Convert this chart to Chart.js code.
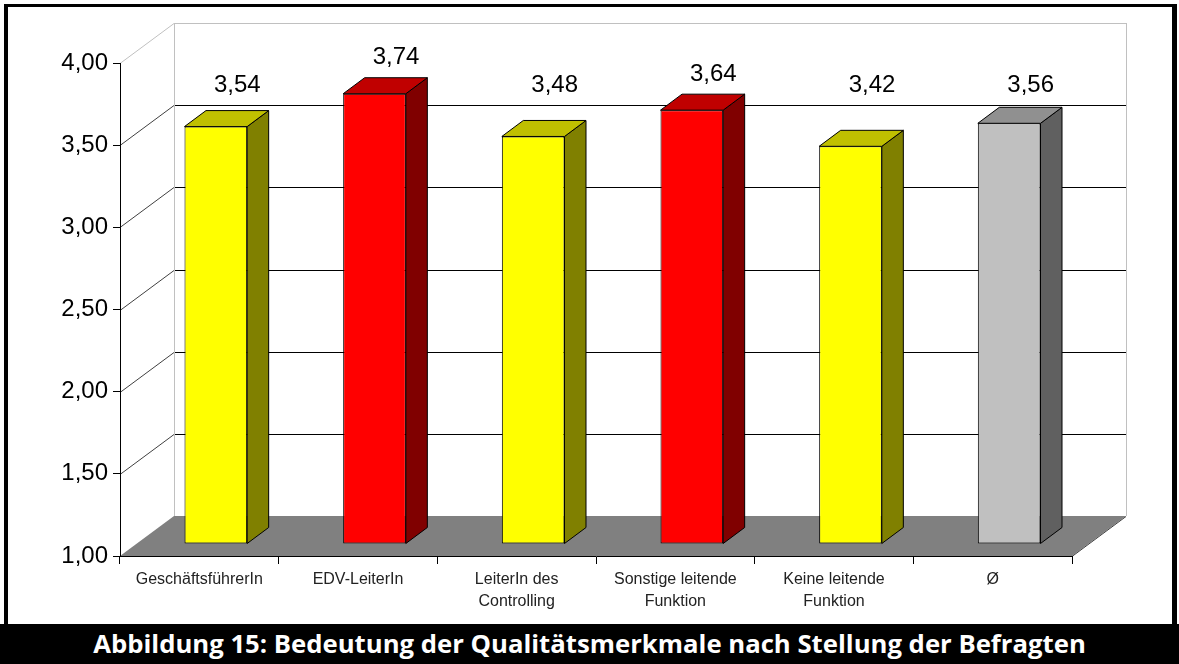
<!DOCTYPE html>
<html>
<head>
<meta charset="utf-8">
<script src="https://cdn.jsdelivr.net/npm/chart.js@4"></script>
<style>
  html, body { margin:0; padding:0; background:#fff; width:1179px; height:664px; overflow:hidden; }
  #frame { position:absolute; left:4px; top:4px; width:1173px; height:620px; box-sizing:border-box;
           border-style:solid; border-color:#000; border-width:3px 5px 0 4px; }
  #title { position:absolute; left:0; top:624px; width:1179px; height:40px; background:#000; color:#fff;
           font-family:"Open Sans", sans-serif; font-weight:700; text-align:center; line-height:40px; white-space:nowrap; }
  #c { position:absolute; left:0; top:0; }
</style>
</head>
<body>
<div id="frame"></div>
<div id="title">Abbildung 15: Bedeutung der Qualitätsmerkmale nach Stellung der Befragten</div>
<canvas id="c" width="1179" height="664"></canvas>
<script>
// ---- data ----
const categories = ['GeschäftsführerIn', 'EDV-LeiterIn', ['LeiterIn des', 'Controlling'],
                    ['Sonstige leitende', 'Funktion'], ['Keine leitende', 'Funktion'], 'Ø'];
const values = [3.54, 3.74, 3.48, 3.64, 3.42, 3.56];
const valueLabels = ['3,54', '3,74', '3,48', '3,64', '3,42', '3,56'];
const yTickValues = [1.0, 1.5, 2.0, 2.5, 3.0, 3.5, 4.0];
const yTickLabels = ['1,00', '1,50', '2,00', '2,50', '3,00', '3,50', '4,00'];

// ---- styles ----
const frontColors = ['#FFFF00', '#FF0000', '#FFFF00', '#FF0000', '#FFFF00', '#C0C0C0'];
const topColors   = ['#C0C000', '#C00000', '#C0C000', '#C00000', '#C0C000', '#909090'];
const sideColors  = ['#808000', '#800000', '#808000', '#800000', '#808000', '#606060'];

// fit title width
(function(){
  const t = document.getElementById('title');
  const m = document.createElement('canvas').getContext('2d');
  m.font = '700 100px "Open Sans"';
  const w = m.measureText(t.textContent).width;
  t.style.fontSize = (100 * 993 / w).toFixed(2) + 'px';
})();

const DX = 16.5, DY = 12;    // shift of bar front face into depth
const BX = 21.5, BY = 16;    // bar depth
const WX = 54, WY = 40;      // wall depth

const threeD = {
  id: 'threeD',
  beforeDraw(chart) {
    const {ctx, chartArea: a, scales: {y}} = chart;
    const yb = y.getPixelForValue(y.min);
    const yt = y.getPixelForValue(y.max);
    ctx.save();
    // floor
    ctx.fillStyle = '#808080';
    ctx.beginPath();
    ctx.moveTo(a.left, yb); ctx.lineTo(a.right, yb);
    ctx.lineTo(a.right + WX, yb - WY); ctx.lineTo(a.left + WX, yb - WY);
    ctx.closePath(); ctx.fill();
    ctx.lineWidth = 1;
    // gridlines on back wall + side diagonals
    y.ticks.forEach(t => {
      if (t.value === y.min) return;
      const py = Math.round(y.getPixelForValue(t.value));
      const isTop = t.value === y.max;
      ctx.strokeStyle = isTop ? '#c0c0c0' : '#000';
      ctx.beginPath();
      ctx.moveTo(a.left + WX, py - WY + 0.5); ctx.lineTo(a.right + WX, py - WY + 0.5);
      ctx.stroke();
      ctx.strokeStyle = isTop ? '#c0c0c0' : '#404040';
      ctx.beginPath();
      ctx.moveTo(a.left, py + 0.5); ctx.lineTo(a.left + WX, py - WY + 0.5);
      ctx.stroke();
    });
    // back wall verticals
    ctx.strokeStyle = '#c0c0c0';
    ctx.beginPath();
    ctx.moveTo(a.left + WX + 0.5, yt - WY); ctx.lineTo(a.left + WX + 0.5, yb - WY);
    ctx.moveTo(a.right + WX + 0.5, yt - WY); ctx.lineTo(a.right + WX + 0.5, yb - WY);
    ctx.stroke();
    // floor right edge
    ctx.strokeStyle = '#404040';
    ctx.beginPath();
    ctx.moveTo(a.right, yb + 0.5); ctx.lineTo(a.right + WX, yb - WY + 0.5);
    ctx.stroke();
    ctx.restore();
  },
  beforeDatasetsDraw(chart) {
    chart.ctx.save();
    chart.ctx.translate(DX, -DY);
  },
  afterDatasetsDraw(chart) {
    const {ctx, chartArea: a} = chart;
    ctx.restore();
    const meta = chart.getDatasetMeta(0);
    ctx.save();
    ctx.lineWidth = 1;
    ctx.strokeStyle = '#000';
    ctx.lineJoin = 'miter';
    meta.data.forEach((bar, i) => {
      const p = bar.getProps(['x', 'y', 'base', 'width'], true);
      const L = p.x - p.width / 2 + DX, R = p.x + p.width / 2 + DX;
      const T = p.y - DY, B = p.base - DY;
      // side
      ctx.fillStyle = sideColors[i];
      ctx.beginPath();
      ctx.moveTo(R, T); ctx.lineTo(R + BX, T - BY); ctx.lineTo(R + BX, B - BY); ctx.lineTo(R, B);
      ctx.closePath(); ctx.fill(); ctx.stroke();
      // top
      ctx.fillStyle = topColors[i];
      ctx.beginPath();
      ctx.moveTo(L, T); ctx.lineTo(L + BX, T - BY); ctx.lineTo(R + BX, T - BY); ctx.lineTo(R, T);
      ctx.closePath(); ctx.fill(); ctx.stroke();
      // value label (centre of digits)
      ctx.fillStyle = '#000';
      ctx.font = '24px "Liberation Sans", Arial, sans-serif';
      ctx.textAlign = 'center';
      ctx.textBaseline = 'alphabetic';
      const cy = Math.min(T - BY - 22, a.top + 20);
      ctx.fillText(valueLabels[i], (L + R) / 2 + BX, cy + 8.5);
    });
    ctx.restore();
  }
};

new Chart(document.getElementById('c'), {
  type: 'bar',
  data: {
    labels: categories,
    datasets: [{
      data: values,
      base: 1,
      backgroundColor: frontColors,
      borderColor: '#000',
      borderWidth: 1,
      borderSkipped: false,
      barPercentage: 0.395,
      categoryPercentage: 1.0,
      clip: false
    }]
  },
  options: {
    responsive: false,
    animation: false,
    devicePixelRatio: 1,
    layout: { padding: { left: 0, right: 107, top: 63, bottom: 0 } },
    plugins: { legend: { display: false }, tooltip: { enabled: false } },
    events: [],
    scales: {
      x: {
        afterFit(s) { s.height = 108; },
        grid: { display: true, drawOnChartArea: false, offset: true, tickLength: 8, color: '#000' },
        border: { display: true, color: '#000', width: 1 },
        ticks: {
          autoSkip: false, maxRotation: 0, minRotation: 0, padding: 5, color: '#222',
          font: { family: '"Liberation Sans", Arial, sans-serif', size: 16, lineHeight: 1.35 }
        }
      },
      y: {
        min: 1, max: 4,
        afterFit(s) { s.width = 120; },
        afterBuildTicks(s) { s.ticks = yTickValues.map(v => ({ value: v })); },
        grid: { display: true, drawOnChartArea: false, tickLength: 7, color: '#000' },
        border: { display: true, color: '#000', width: 1 },
        ticks: {
          padding: 5, color: '#000',
          font: { family: '"Liberation Sans", Arial, sans-serif', size: 24 },
          callback: (v, i) => yTickLabels[i]
        }
      }
    }
  },
  plugins: [threeD]
});
</script>
</body>
</html>
